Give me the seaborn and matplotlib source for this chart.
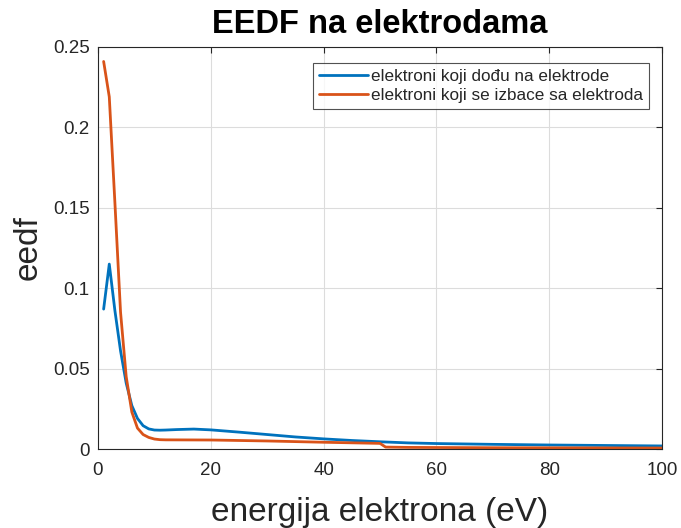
import matplotlib
matplotlib.use("Agg")
import matplotlib.pyplot as plt
import seaborn as sns
import pandas as pd

# Electron energy distribution at the electrodes
energy_in = [1, 2, 3, 4, 5, 6, 7, 8, 9, 10, 11, 12, 14, 17, 20, 25, 30, 35,
             40, 45, 50, 55, 60, 70, 80, 90, 100]
eedf_in = [0.087, 0.115, 0.086, 0.061, 0.041, 0.027, 0.019, 0.0145, 0.0125,
           0.0118, 0.0117, 0.0118, 0.0121, 0.0124, 0.0119, 0.0105, 0.0090,
           0.0075, 0.0063, 0.0053, 0.0045, 0.0038, 0.0034, 0.0029, 0.0025,
           0.0022, 0.0019]

energy_out = [1, 2, 3, 4, 5, 6, 7, 8, 9, 10, 11, 12, 20, 30, 40, 50, 51, 55,
              70, 85, 100]
eedf_out = [0.241, 0.219, 0.153, 0.085, 0.045, 0.023, 0.013, 0.009, 0.0072,
            0.0062, 0.0058, 0.0057, 0.0056, 0.0050, 0.0042, 0.0035, 0.0012,
            0.0010, 0.0008, 0.0007, 0.0006]

labels = ["elektroni koji dođu na elektrode",
          "elektroni koji se izbace sa elektroda"]
colors = ["#0072BD", "#D95319"]

df = pd.concat([
    pd.DataFrame({"energy": energy_in, "eedf": eedf_in, "series": labels[0]}),
    pd.DataFrame({"energy": energy_out, "eedf": eedf_out, "series": labels[1]}),
])

sns.set_theme(style="white")
plt.rcParams["font.family"] = ["Liberation Sans", "DejaVu Sans"]

fig = plt.figure(figsize=(6.81, 5.28), dpi=100)
ax = fig.add_axes([0.1439, 0.1496, 0.8282, 0.7614])

sns.lineplot(data=df, x="energy", y="eedf", hue="series", palette=colors,
             linewidth=2.0, sort=False, ax=ax, legend=False, estimator=None)

ax.set_xlim(0, 100)
ax.set_ylim(0, 0.25)
ax.set_xticks([0, 20, 40, 60, 80, 100])
ax.set_yticks([0, 0.05, 0.1, 0.15, 0.2, 0.25])
ax.set_yticklabels(["0", "0.05", "0.1", "0.15", "0.2", "0.25"])
ax.grid(True, color="#dcdcdc", linewidth=0.8)
ax.tick_params(direction="in", top=True, right=True, length=4, width=0.8,
               colors="#262626", labelsize=13.5)
ax.tick_params(axis="x", pad=9)
ax.tick_params(axis="y", pad=6)
for s in ax.spines.values():
    s.set_color("#262626")
    s.set_linewidth(0.8)

ax.set_xlabel("energija elektrona (eV)", fontsize=24, color="#262626", labelpad=13)
ax.set_ylabel("eedf", fontsize=24, color="#262626", labelpad=7)
ax.set_title("EEDF na elektrodama", fontsize=23.5, fontweight="bold", color="black", pad=10)

handles = [plt.Line2D([], [], color=c, linewidth=2.0) for c in colors]
leg = ax.legend(handles, labels, loc="upper right", bbox_to_anchor=(0.977, 0.960),
                fontsize=12.3, frameon=True, fancybox=False, handlelength=2.9,
                handletextpad=0.15, borderpad=0.35, labelspacing=0.25,
                borderaxespad=0)
leg.get_frame().set_edgecolor("#262626")
leg.get_frame().set_linewidth(0.8)

fig.savefig("out.png", dpi=100)
